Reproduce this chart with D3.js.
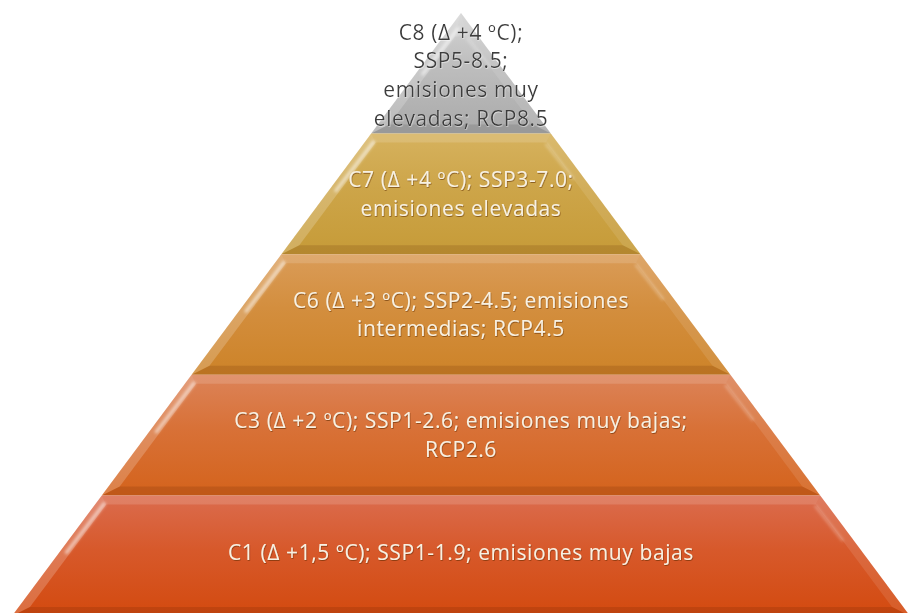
<!DOCTYPE html>
<html>
<head>
<meta charset="utf-8">
<script src="https://cdn.jsdelivr.net/npm/d3@7"></script>
<style>
  html, body { margin: 0; padding: 0; background: #ffffff; }
  svg { display: block; }
  text { font-family: "Open Sans", "Noto Sans", sans-serif; }
</style>
</head>
<body>
<div id="chart"></div>
<script>
// Pyramid tiers, from apex (C8) to base (C1)
const tierKeys = ["C8", "C7", "C6", "C3", "C1"];
const tierLabels = [
  ["C8 (Δ +4 ºC);", "SSP5-8.5;", "emisiones muy", "elevadas; RCP8.5"],
  ["C7 (Δ +4 ºC); SSP3-7.0;", "emisiones elevadas"],
  ["C6 (Δ +3 ºC); SSP2-4.5; emisiones", "intermedias; RCP4.5"],
  ["C3 (Δ +2 ºC); SSP1-2.6; emisiones muy bajas;", "RCP2.6"],
  ["C1 (Δ +1,5 ºC); SSP1-1.9; emisiones muy bajas"]
];
const tierTopColors    = ["#d4d4d4", "#d6b25e", "#da9c58", "#dc8358", "#db6c4e"];
const tierBottomColors = ["#aaaaaa", "#c69b38", "#cd8328", "#d4631c", "#d34a0f"];
const tierTextColors   = ["#3c3c3c", "#f8f1e2", "#f8f1e2", "#f8f1e2", "#f8f1e2"];

const W = 911, H = 613;
const svg = d3.select("#chart").append("svg")
  .attr("width", W).attr("height", H);

// level boundary index (0 = apex, 5 = base) -> vertical position
const y = d3.scaleLinear().domain([0, tierKeys.length]).range([13, 616]);
// level boundary index -> half width of the pyramid
const halfW = d3.scaleLinear().domain([0, tierKeys.length]).range([0, 449]);
const cx = 461;

const slope = halfW(1) / (y(1) - y(0));
const bevel = 9;
const sideInset = bevel * Math.sqrt(1 + slope * slope);

const defs = svg.append("defs");
tierKeys.forEach((k, i) => {
  const g = defs.append("linearGradient").attr("id", "grad-" + k)
    .attr("x1", 0).attr("y1", 0).attr("x2", 0).attr("y2", 1);
  g.append("stop").attr("offset", "0%").attr("stop-color", tierTopColors[i]);
  g.append("stop").attr("offset", "45%").attr("stop-color", d3.interpolateRgb(tierTopColors[i], tierBottomColors[i])(0.55));
  g.append("stop").attr("offset", "100%").attr("stop-color", tierBottomColors[i]);
});
const blur = defs.append("filter").attr("id", "soft")
  .attr("x", "-50%").attr("y", "-50%").attr("width", "200%").attr("height", "200%");
blur.append("feGaussianBlur").attr("stdDeviation", 1.6);
const txtShadow = defs.append("filter").attr("id", "txtshadow")
  .attr("x", "-10%").attr("y", "-30%").attr("width", "120%").attr("height", "160%");
txtShadow.append("feDropShadow").attr("dx", 0.6).attr("dy", 1)
  .attr("stdDeviation", 0.7).attr("flood-color", "#5a2a00").attr("flood-opacity", 0.55);
const txtShadowDark = defs.append("filter").attr("id", "txtshadowdark")
  .attr("x", "-10%").attr("y", "-30%").attr("width", "120%").attr("height", "160%");
txtShadowDark.append("feDropShadow").attr("dx", 0.5).attr("dy", 0.8)
  .attr("stdDeviation", 0.6).attr("flood-color", "#ffffff").attr("flood-opacity", 0.6);

const line = d3.line();

tierKeys.forEach((k, i) => {
  const y0 = y(i), y1 = y(i + 1);
  const h0 = halfW(i), h1 = halfW(i + 1);
  const g = svg.append("g").attr("class", "tier tier-" + k);

  // outer outline: triangle at apex, trapezoid otherwise
  const outer = h0 > 0
    ? [[cx - h0, y0], [cx + h0, y0], [cx + h1, y1], [cx - h1, y1]]
    : [[cx, y0], [cx, y0], [cx + h1, y1], [cx - h1, y1]];

  const iy0 = (h0 > 0 ? y0 + bevel : y0 + bevel * 2.6);
  const iy1 = y1 - bevel;
  const ihw = yy => Math.max(0, (yy - y(0)) * slope - sideInset);
  const inner = [[cx - ihw(iy0), iy0], [cx + ihw(iy0), iy0], [cx + ihw(iy1), iy1], [cx - ihw(iy1), iy1]];

  g.append("path").attr("d", line(outer) + "Z")
    .attr("fill", "url(#grad-" + k + ")");

  // bevel faces
  const faces = [
    { pts: [outer[0], outer[1], inner[1], inner[0]], fill: "#ffffff", op: 0.14 },
    { pts: [outer[1], outer[2], inner[2], inner[1]], fill: "#ffffff", op: 0.10 },
    { pts: [outer[3], outer[2], inner[2], inner[3]], fill: "#5a2000", op: 0.16 },
    { pts: [outer[0], outer[3], inner[3], inner[0]], fill: "#ffffff", op: 0.20 }
  ];
  if (i === 0) { faces[2].fill = "#303030"; faces[2].op = 0.14; }
  faces.forEach(f => {
    g.append("path").attr("d", line(f.pts) + "Z")
      .attr("fill", f.fill).attr("fill-opacity", f.op);
  });

  // light streak along the left bevel
  const sx0 = (outer[0][0] + inner[0][0]) / 2, sy0 = (outer[0][1] + inner[0][1]) / 2 + 4;
  const t = 0.45;
  const sx1 = sx0 + ((outer[3][0] + inner[3][0]) / 2 - sx0) * t;
  const sy1 = sy0 + ((outer[3][1] + inner[3][1]) / 2 - sy0) * t;
  g.append("line")
    .attr("x1", sx0).attr("y1", sy0).attr("x2", sx1).attr("y2", sy1)
    .attr("stroke", "#ffffff").attr("stroke-opacity", 0.55)
    .attr("stroke-width", 3.5).attr("stroke-linecap", "round")
    .attr("filter", "url(#soft)");
  // faint streak along the right inner edge
  g.append("line")
    .attr("x1", inner[1][0]).attr("y1", inner[1][1] + 2)
    .attr("x2", inner[1][0] + (inner[2][0] - inner[1][0]) * 0.35)
    .attr("y2", inner[1][1] + (inner[2][1] - inner[1][1]) * 0.35)
    .attr("stroke", "#ffffff").attr("stroke-opacity", 0.3)
    .attr("stroke-width", 2.5).attr("stroke-linecap", "round")
    .attr("filter", "url(#soft)");

  // label, centred in the tier; one text element per line
  const lines = tierLabels[i];
  const lh = 28.6;
  const mid = (y0 + y1) / 2 + (i === 0 ? 2 : (i === 4 ? -3 : 0));
  lines.forEach((s, j) => {
    g.append("text")
      .attr("x", cx)
      .attr("y", mid + (j - (lines.length - 1) / 2) * lh)
      .attr("dy", "0.35em")
      .attr("text-anchor", "middle")
      .attr("font-size", 21)
      .attr("letter-spacing", 0.6)
      .attr("fill", tierTextColors[i])
      .attr("filter", i === 0 ? "url(#txtshadowdark)" : "url(#txtshadow)")
      .text(s);
  });
});
</script>
</body>
</html>
